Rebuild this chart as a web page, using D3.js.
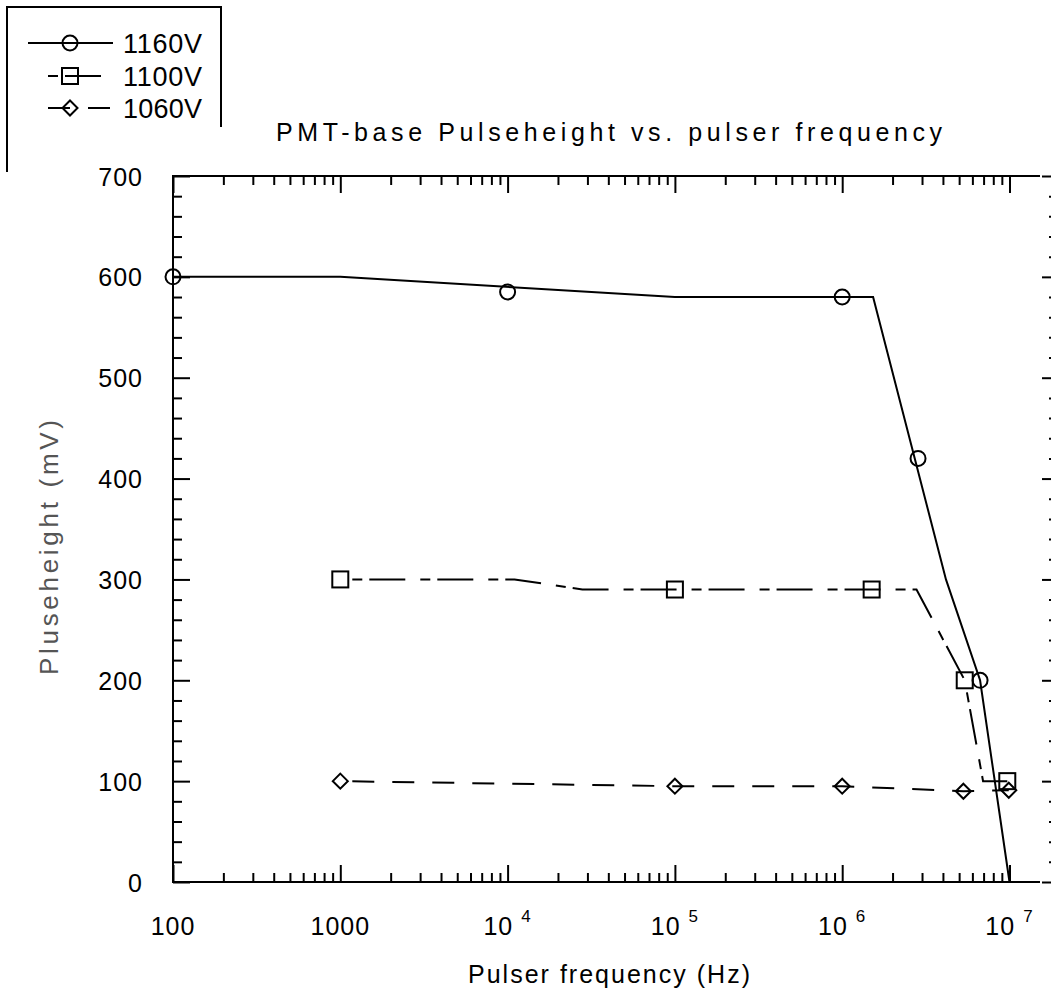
<!DOCTYPE html>
<html>
<head>
<meta charset="utf-8">
<script src="https://cdn.jsdelivr.net/npm/d3@7/dist/d3.min.js"></script>
<style>
  body { margin: 0; background: #fff; }
  svg { display: block; }
  text { font-family: "Liberation Sans", Arial, sans-serif; fill: #000; }
</style>
</head>
<body>
<div id="chart"></div>
<script>
// series names and marker shapes
var seriesNames = ["1160V", "1100V", "1060V"];
var seriesShapes = ["circle", "square", "diamond"];

// measured points (markers), [frequency Hz, pulseheight mV]
var points1160 = [[100, 600], [1e4, 585], [1e6, 580], [2.84e6, 420], [6.67e6, 200]];
var points1100 = [[1000, 300], [1e5, 290], [1.5e6, 290], [5.4e6, 200], [9.7e6, 100]];
var points1060 = [[1000, 100], [1e5, 95], [1e6, 95], [5.3e6, 90], [9.9e6, 91]];

// connecting curves as drawn in the original
var curve1160 = [[100, 600], [1000, 600], [1e5, 580], [1.53e6, 580], [4.17e6, 300], [6.67e6, 200], [1e7, 0]];
var curve1100 = [[1000, 300], [1.1e4, 300], [2.8e4, 290], [2.78e6, 290], [5.4e6, 200], [6.95e6, 100], [9.7e6, 100]];
var curve1060 = [[1000, 100], [1e5, 95], [1e6, 95], [5.3e6, 90], [9.9e6, 91]];

// axis ticks
var xMajor = [100, 1000, 1e4, 1e5, 1e6, 1e7];
var xLabels = [["100", ""], ["1000", ""], ["10", "4"], ["10", "5"], ["10", "6"], ["10", "7"]];
var yMajor = [0, 100, 200, 300, 400, 500, 600, 700];

var title = "PMT-base Pulseheight vs. pulser frequency";
var xTitle = "Pulser frequency (Hz)";
var yTitle = "Pluseheight (mV)";

var width = 1051, height = 994;

var svg = d3.select("#chart").append("svg")
    .attr("width", width)
    .attr("height", height);

var x = d3.scaleLog().domain([100, 1e7]).range([173, 1009.5]);
var y = d3.scaleLinear().domain([0, 700]).range([882, 176]);

// minor ticks: 2..9 in every decade, every 20 mV
var xMinor = [];
for (var e = 2; e < 7; e++) {
    for (var m = 2; m < 10; m++) xMinor.push(m * Math.pow(10, e));
}
var yMinor = d3.range(0, 701, 20).filter(function(v) { return v % 100 != 0; });

function styleAxis(g) {
    g.select(".domain").remove();
    g.selectAll("line").attr("stroke", "#000").attr("stroke-width", 2);
}

// bottom axis, ticks pointing up
svg.append("g").attr("transform", "translate(0,882)")
    .call(d3.axisBottom(x).tickValues(xMajor).tickSize(-17).tickFormat(""))
    .call(styleAxis);
svg.append("g").attr("transform", "translate(0,882)")
    .call(d3.axisBottom(x).tickValues(xMinor).tickSize(-9).tickFormat(""))
    .call(styleAxis);

// top axis, ticks pointing down
svg.append("g").attr("transform", "translate(0,176)")
    .call(d3.axisTop(x).tickValues(xMajor).tickSize(-17).tickFormat(""))
    .call(styleAxis);
svg.append("g").attr("transform", "translate(0,176)")
    .call(d3.axisTop(x).tickValues(xMinor).tickSize(-9).tickFormat(""))
    .call(styleAxis);

// left axis with labels
var left = svg.append("g").attr("transform", "translate(173,0)")
    .call(d3.axisLeft(y).tickValues(yMajor).tickSize(-17).tickPadding(30).tickFormat(d3.format("d")))
    .call(styleAxis);
left.selectAll("text")
    .attr("font-size", 25)
    .attr("letter-spacing", 1)
    .attr("dy", "0.36em");
svg.append("g").attr("transform", "translate(173,0)")
    .call(d3.axisLeft(y).tickValues(yMinor).tickSize(-9).tickFormat(""))
    .call(styleAxis);

// right axis, line falls just outside the picture
svg.append("g").attr("transform", "translate(1052,0)")
    .call(d3.axisRight(y).tickValues(yMajor).tickSize(-10).tickFormat(""))
    .call(styleAxis);
svg.append("g").attr("transform", "translate(1052,0)")
    .call(d3.axisRight(y).tickValues(yMinor).tickSize(-3).tickFormat(""))
    .call(styleAxis);

// frame lines
svg.append("line").attr("x1", 173).attr("x2", 1040).attr("y1", 882).attr("y2", 882)
    .attr("stroke", "#000").attr("stroke-width", 2);
svg.append("line").attr("x1", 173).attr("x2", 1040).attr("y1", 176).attr("y2", 176)
    .attr("stroke", "#000").attr("stroke-width", 2);
svg.append("line").attr("x1", 173).attr("x2", 173).attr("y1", 175).attr("y2", 883)
    .attr("stroke", "#000").attr("stroke-width", 2);

// x tick labels with superscripts
var xl = svg.append("g").selectAll("text")
    .data(xMajor)
    .enter().append("text")
    .attr("x", function(d) { return x(d); })
    .attr("y", 935)
    .attr("text-anchor", "middle")
    .attr("font-size", 25)
    .attr("letter-spacing", 1);
xl.append("tspan").text(function(d, i) { return xLabels[i][0]; });
xl.append("tspan")
    .attr("dx", 8)
    .attr("dy", -13)
    .attr("font-size", 17)
    .text(function(d, i) { return xLabels[i][1]; });

// titles
svg.append("text")
    .attr("x", 276).attr("y", 141)
    .attr("font-size", 25)
    .attr("textLength", 666)
    .attr("lengthAdjust", "spacing")
    .text(title);

svg.append("text")
    .attr("x", 468).attr("y", 983)
    .attr("font-size", 25)
    .attr("textLength", 282)
    .attr("lengthAdjust", "spacing")
    .text(xTitle);

svg.append("text")
    .attr("transform", "translate(58,675) rotate(-90)")
    .attr("font-size", 26)
    .attr("textLength", 255)
    .attr("lengthAdjust", "spacing")
    .style("fill", "#555")
    .text(yTitle);

// series
var series = [
    { name: seriesNames[0], shape: seriesShapes[0], points: points1160, curve: curve1160, dash: null, offset: 0 },
    { name: seriesNames[1], shape: seriesShapes[1], points: points1100, curve: curve1100, dash: "10,7,36,15", offset: 56 },
    { name: seriesNames[2], shape: seriesShapes[2], points: points1060, curve: curve1060, dash: "22,18", offset: 28 }
];

var line = d3.line()
    .x(function(d) { return x(d[0]); })
    .y(function(d) { return y(d[1]); });

function marker(g, shape) {
    if (shape == "circle") {
        g.append("circle").attr("r", 7.5);
    } else if (shape == "square") {
        g.append("rect").attr("x", -8).attr("y", -8).attr("width", 16).attr("height", 16);
    } else {
        g.append("path").attr("d", "M0,-7.5L7.5,0L0,7.5L-7.5,0Z");
    }
    g.selectAll("*").attr("fill", "none").attr("stroke", "#000").attr("stroke-width", 2);
}

series.forEach(function(s) {
    svg.append("path")
        .datum(s.curve)
        .attr("d", line)
        .attr("fill", "none")
        .attr("stroke", "#000")
        .attr("stroke-width", 2)
        .attr("stroke-dasharray", s.dash)
        .attr("stroke-dashoffset", s.offset);

    svg.append("g").selectAll("g")
        .data(s.points)
        .enter().append("g")
        .attr("transform", function(d) { return "translate(" + x(d[0]) + "," + y(d[1]) + ")"; })
        .each(function() { marker(d3.select(this), s.shape); });
});

// legend
var legend = svg.append("g");
legend.append("path")
    .attr("d", "M7,172V7H221V127")
    .attr("fill", "none")
    .attr("stroke", "#000")
    .attr("stroke-width", 2);

var rowY = [43, 76, 108];
var rowStart = [28, 48, 48];
series.forEach(function(s, i) {
    legend.append("line")
        .attr("x1", rowStart[i]).attr("x2", 113)
        .attr("y1", rowY[i]).attr("y2", rowY[i])
        .attr("stroke", "#000")
        .attr("stroke-width", 2)
        .attr("stroke-dasharray", s.dash);
    var m = legend.append("g").attr("transform", "translate(70," + rowY[i] + ")");
    marker(m, s.shape);
    legend.append("text")
        .attr("x", 123).attr("y", rowY[i] + 10)
        .attr("font-size", 27)
        .attr("textLength", 79)
        .attr("lengthAdjust", "spacing")
        .text(s.name);
});
</script>
</body>
</html>
